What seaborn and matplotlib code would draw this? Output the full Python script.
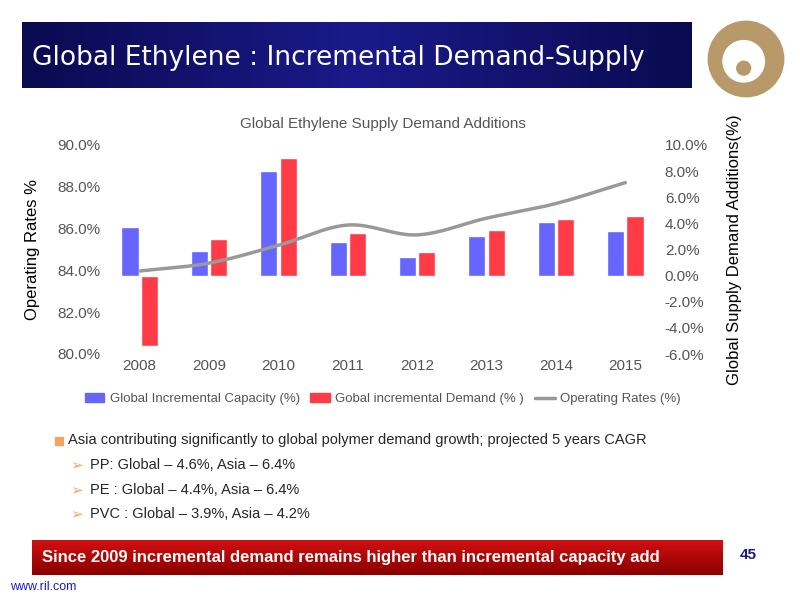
import numpy as np
import pandas as pd
import matplotlib
matplotlib.use("Agg")
import matplotlib.pyplot as plt
import matplotlib.patches as mp
from matplotlib.colors import LinearSegmentedColormap
import seaborn as sns

years = ["2008", "2009", "2010", "2011", "2012", "2013", "2014", "2015"]
capacity = [3.75, 1.9, 8.0, 2.6, 1.45, 3.0, 4.1, 3.4]
demand = [-5.4, 2.8, 9.0, 3.3, 1.8, 3.5, 4.3, 4.6]
oprate = [83.97, 84.35, 85.2, 86.17, 85.7, 86.5, 87.2, 88.2]
cap_label = "Global Incremental Capacity (%)"
dem_label = "Gobal incremental Demand (% )"
op_label = "Operating Rates (%)"

sns.set_theme(style="white")
plt.rcParams['font.family'] = ['Liberation Sans', 'DejaVu Sans']

fig = plt.figure(figsize=(8, 6), dpi=100)
fig.patch.set_facecolor("white")

# title banner
bax = fig.add_axes([22/800, 1-88/600, 670/800, 66/600])
grad = np.linspace(0, 1, 256).reshape(1, -1)
cm = LinearSegmentedColormap.from_list("b", ["#0a0a50", "#1a1a8a", "#0a0a50"])
bax.imshow(grad, aspect="auto", cmap=cm, extent=[0, 1, 0, 1])
bax.set_axis_off()
bax.text(0.015, 0.45, "Global Ethylene : Incremental Demand-Supply", color="white",
         fontsize=19, va="center", ha="left", transform=bax.transAxes,
         family=["DejaVu Sans"])

# logo
lax = fig.add_axes([700/800, 1-105/600, 92/800, 92/600])
lax.set_xlim(-1, 1); lax.set_ylim(-1, 1); lax.set_aspect("equal"); lax.set_axis_off()
lax.add_patch(mp.Circle((0, 0), 0.82, color="#b89a6a"))
lax.add_patch(mp.Circle((-0.05, -0.05), 0.45, color="white"))
lax.add_patch(mp.Circle((-0.05, -0.2), 0.15, color="#b89a6a"))

# chart
df = pd.DataFrame({"year": years * 2, "val": capacity + demand,
                   "series": [cap_label] * 8 + [dem_label] * 8})
ax = fig.add_axes([105/800, 1-354/600, 555/800, 209/600])
sns.barplot(data=df, x="year", y="val", hue="series", order=years,
            palette=["#6666ff", "#ff3b47"], width=0.56, gap=0.12, saturation=1,
            ax=ax, legend=False)
ax2 = ax.twinx()

x = np.arange(len(years))
p = np.array(oprate)
px, py = [], []
P = np.concatenate([[2*p[0]-p[1]], p, [2*p[-1]-p[-2]]])
for i in range(len(p)-1):
    t = np.linspace(0, 1, 20)
    p0, p1, p2, p3 = P[i], P[i+1], P[i+2], P[i+3]
    yy = 0.5*((2*p1) + (-p0+p2)*t + (2*p0-5*p1+4*p2-p3)*t**2 + (-p0+3*p1-3*p2+p3)*t**3)
    px.extend(i + t); py.extend(yy)
sns.lineplot(x=px, y=py, color="#999999", lw=2.5, ax=ax2, sort=False)

ax.set_ylim(-6, 10)
ax.set_yticks(np.arange(-6, 11, 2))
ax.set_yticklabels([f"{v:.1f}%" for v in np.arange(-6, 11, 2)])
ax.yaxis.tick_right()
ax.yaxis.set_label_position("right")
ax.set_ylabel("Global Supply Demand Additions(%)", fontsize=12, labelpad=14)
ax.set_xlabel("")
ax.tick_params(axis="both", labelsize=11, colors="#555555", length=0)
for s in ax.spines.values():
    s.set_visible(False)

ax2.set_ylim(80, 90)
ax2.set_yticks(np.arange(80, 91, 2))
ax2.set_yticklabels([f"{v:.1f}%" for v in np.arange(80, 91, 2)])
ax2.yaxis.tick_left()
ax2.yaxis.set_label_position("left")
ax2.set_ylabel("Operating Rates %", fontsize=12, labelpad=12, color="black")
ax.yaxis.label.set_color("black")
ax2.tick_params(axis="y", labelsize=11, colors="#555555", length=0)
for s in ax2.spines.values():
    s.set_visible(False)
ax.set_xlim(-0.5, 7.5)
ax2.set_xlim(-0.5, 7.5)
ax.set_title("Global Ethylene Supply Demand Additions", fontsize=11, color="#555555", pad=12)

handles = [mp.Patch(color="#6666ff", label=cap_label),
           mp.Patch(color="#ff3b47", label=dem_label),
           plt.Line2D([], [], color="#999999", lw=2.5, label=op_label)]
ax.legend(handles=handles, loc="upper center", bbox_to_anchor=(0.5, -0.13), ncol=3,
          frameon=False, fontsize=9.5, labelcolor="#555555", handlelength=1.5,
          columnspacing=0.8, handletextpad=0.4)

# bullets
fig.patches.append(mp.Rectangle((55/800, 1-445/600), 8/800, 8/600, color="#f4a460",
                                transform=fig.transFigure))
fig.text(68/800, 1-440/600, "Asia contributing significantly to global polymer demand growth; projected 5 years CAGR",
         fontsize=10.5, va="center")
items = ["PP: Global \u2013 4.6%, Asia \u2013 6.4%",
         "PE : Global \u2013 4.4%, Asia \u2013 6.4%",
         "PVC : Global \u2013 3.9%, Asia \u2013 4.2%"]
for i, t in enumerate(items):
    yy = 1-(465+24.5*i)/600
    fig.text(70/800, yy, "\u27a2", fontsize=11, va="center", color="#f4a460", family=["DejaVu Sans"])
    fig.text(90/800, yy, t, fontsize=10.5, va="center")

# bottom banner
rax = fig.add_axes([32/800, 1-575/600, 690/800, 35/600])
cm2 = LinearSegmentedColormap.from_list("r", ["#d01010", "#8a0000"])
rax.imshow(np.linspace(0, 1, 64).reshape(-1, 1), aspect="auto", cmap=cm2, extent=[0, 1, 0, 1])
rax.set_axis_off()
rax.text(0.015, 0.5, "Since 2009 incremental demand remains higher than incremental capacity add",
         color="white", fontsize=12, weight="bold", va="center", transform=rax.transAxes)
fig.text(740/800, 1-555/600, "45", color="#1a1a8a", fontsize=11, weight="bold", va="center")
fig.text(10/800, 1-587/600, "www.ril.com", color="#1a1acc", fontsize=9, va="center")

fig.savefig("out.png", dpi=100)
